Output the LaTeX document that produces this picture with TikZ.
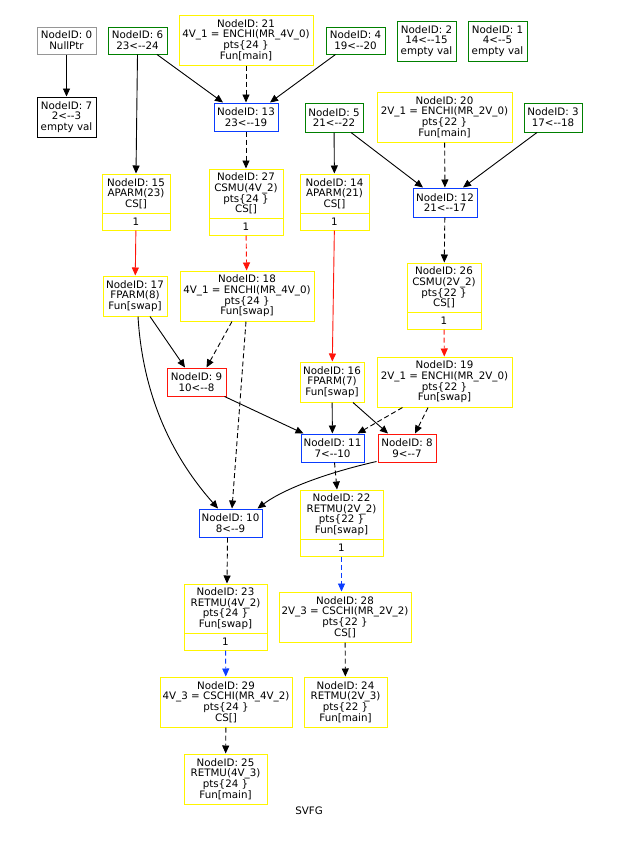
\documentclass[tikz,border=0pt]{standalone}
\usepackage{fontspec}
\setmainfont{DejaVu Sans}
\usetikzlibrary{arrows.meta}
\definecolor{gvgreen}{RGB}{0,128,0}
\definecolor{gvblue}{RGB}{10,60,255}
\definecolor{gvred}{RGB}{255,20,10}
\definecolor{gvyellow}{RGB}{255,245,0}
\definecolor{gvgray}{RGB}{150,150,150}
\newcommand{\dd}{<-\kern0pt-}
\begin{document}
\begin{tikzpicture}[x=1pt,y=-1pt,
  gvbox/.style={draw, line width=1pt, inner sep=0pt, align=center, font=\fontsize{10.3}{10.7}\selectfont},
  sz/.style 2 args={minimum width=#1pt, minimum height=#2pt},
  gb/.style={gvbox, draw=gvgreen},
  bb/.style={gvbox, draw=gvblue},
  rb/.style={gvbox, draw=gvred},
  yb/.style={gvbox, draw=gvyellow},
  kb/.style={gvbox, draw=black},
  conn/.style={line width=0.9pt, -{Triangle[length=8pt,width=7pt]}},
  dsh/.style={dash pattern=on 5pt off 3pt},
  rc/.style={draw=gvred, -{Triangle[length=8pt,width=7pt,fill=gvred]}},
  bc/.style={draw=gvblue, -{Triangle[length=8pt,width=7pt,fill=gvblue]}},
]
\path[fill=white] (0,0) rectangle (622,847);
\useasboundingbox (0,0) rectangle (622,847);

% row 1
\node[gvbox, draw=gvgray, sz={59}{27}] (n0) at (66.5,40.5) {NodeID: 0\\NullPtr};
\node[gb, sz={59}{27}] (n6) at (137.5,40.5) {NodeID: 6\\23\dd24};
\node[yb, sz={134}{50}] (n21) at (246,40) {NodeID: 21\\4V\_1 = ENCHI(MR\_4V\_0)\\pts\{24 \}\\Fun[main]};
\node[gb, sz={59}{27}] (n4) at (355.5,40.5) {NodeID: 4\\19\dd20};
\node[gb, sz={59}{40}] (n2) at (426.5,41) {NodeID: 2\\14\dd15\\empty val};
\node[gb, sz={59}{40}] (n1) at (497.5,41) {NodeID: 1\\4\dd5\\empty val};

% row 2
\node[kb, sz={59}{40}] (n7) at (66.5,117) {NodeID: 7\\2\dd3\\empty val};
\node[bb, sz={64}{28}] (n13) at (246,117) {NodeID: 13\\23\dd19};
\node[gb, sz={58}{29}] (n5) at (334,117.5) {NodeID: 5\\21\dd22};
\node[yb, sz={135}{50}] (n20) at (444.5,117) {NodeID: 20\\2V\_1 = ENCHI(MR\_2V\_0)\\pts\{22 \}\\Fun[main]};
\node[gb, sz={58}{29}] (n3) at (553,117.5) {NodeID: 3\\17\dd18};

% row 3
\node[yb, sz={68}{39}] (n15) at (136,193.5) {NodeID: 15\\APARM(23)\\CS[]};
\node[yb, sz={68}{17}] (n15b) at (136,221.5) {1};
\node[yb, sz={74}{49}] (n27) at (246,193.5) {NodeID: 27\\CSMU(4V\_2)\\pts\{24 \}\\CS[]};
\node[yb, sz={74}{17}] (n27b) at (246,226.5) {1};
\node[yb, sz={69}{39}] (n14) at (334.5,193.5) {NodeID: 14\\APARM(21)\\CS[]};
\node[yb, sz={69}{17}] (n14b) at (334.5,221.5) {1};
\node[bb, sz={64}{29}] (n12) at (445,202.5) {NodeID: 12\\21\dd17};

% row 4
\node[yb, sz={74}{49}] (n26) at (444,287.5) {NodeID: 26\\CSMU(2V\_2)\\pts\{22 \}\\CS[]};
\node[yb, sz={74}{17}] (n26b) at (444,320.5) {1};
\node[yb, sz={64}{40}] (n17) at (135,296) {NodeID: 17\\FPARM(8)\\Fun[swap]};
\node[yb, sz={134}{50}] (n18) at (247,296) {NodeID: 18\\4V\_1 = ENCHI(MR\_4V\_0)\\pts\{24 \}\\Fun[swap]};

% row 5
\node[rb, sz={59}{28}] (n9) at (196.5,382) {NodeID: 9\\10\dd8};
\node[yb, sz={64}{40}] (n16) at (332,382) {NodeID: 16\\FPARM(7)\\Fun[swap]};
\node[yb, sz={135}{50}] (n19) at (444.5,382) {NodeID: 19\\2V\_1 = ENCHI(MR\_2V\_0)\\pts\{22 \}\\Fun[swap]};

% row 6
\node[bb, sz={63}{28}] (n11) at (332.5,448) {NodeID: 11\\7\dd10};
\node[rb, sz={58}{28}] (n8) at (407,448) {NodeID: 8\\9\dd7};

% row 7
\node[bb, sz={63}{28}] (n10) at (230.5,523) {NodeID: 10\\8\dd9};
\node[yb, sz={83}{49}] (n22) at (341.5,514.5) {NodeID: 22\\RETMU(2V\_2)\\pts\{22 \}\\Fun[swap]};
\node[yb, sz={83}{17}] (n22b) at (341.5,547.5) {1};

% row 8
\node[yb, sz={83}{49}] (n23) at (225.5,608.5) {NodeID: 23\\RETMU(4V\_2)\\pts\{24 \}\\Fun[swap]};
\node[yb, sz={83}{17}] (n23b) at (225.5,641.5) {1};
\node[yb, sz={132}{50}] (n28) at (345,617) {NodeID: 28\\2V\_3 = CSCHI(MR\_2V\_2)\\pts\{22 \}\\CS[]};

% row 9
\node[yb, sz={132}{50}] (n29) at (226,702) {NodeID: 29\\4V\_3 = CSCHI(MR\_4V\_2)\\pts\{24 \}\\CS[]};
\node[yb, sz={83}{50}] (n24) at (345.5,702) {NodeID: 24\\RETMU(2V\_3)\\pts\{22 \}\\Fun[main]};

% row 10
\node[yb, sz={83}{50}] (n25) at (225.5,779) {NodeID: 25\\RETMU(4V\_3)\\pts\{24 \}\\Fun[main]};
\node[font=\fontsize{10.3}{10.7}\selectfont, inner sep=0pt] (title) at (309,811) {SVFG};

% edges
\draw[conn] (n0) -- (n7);
\draw[conn] ([xshift=19.5pt]n6.south) -- ([xshift=-23pt]n13.north);
\draw[conn,dsh] (n21) -- (n13);
\draw[conn] ([xshift=-20pt]n4.south) -- ([xshift=24pt]n13.north);
\draw[conn] (n6.south) -- (n15.north);
\draw[conn] (n5) -- (n14);
\draw[conn] ([xshift=17pt]n5.south) -- ([xshift=-22pt]n12.north);
\draw[conn,dsh] (n20) -- (n12);
\draw[conn] ([xshift=-16pt]n3.south) -- ([xshift=18pt]n12.north);
\draw[conn,dsh] (n13) -- (n27);
\draw[conn,dsh] (n12) -- (n26);
\draw[conn,rc] (n15b) -- (n17);
\draw[conn,rc,dsh] (n27b) -- (n18);
\draw[conn,rc] (n14b) -- (n16);
\draw[conn,rc,dsh] (n26b) -- (n19);
\draw[conn] ([xshift=15pt]n17.south) -- ([xshift=-11.5pt]n9.north);
\draw[conn] ([xshift=3pt]n17.south) .. controls (143,400) and (175,460) .. ([xshift=-12.5pt]n10.north);
\draw[conn,dsh] ([xshift=-15pt]n18.south) -- ([xshift=10pt]n9.north);
\draw[conn,dsh] ([xshift=-1pt]n18.south) -- ([xshift=1.5pt]n10.north);
\draw[conn] ([xshift=-2pt]n9.south east) -- ([xshift=3pt]n11.north west);
\draw[conn] (n16) -- (n11);
\draw[conn] ([xshift=21pt]n16.south) -- ([xshift=-19pt]n8.north);
\draw[conn,dsh] ([xshift=-42pt]n19.south) -- ([xshift=25pt]n11.north);
\draw[conn,dsh] ([xshift=-16.5pt]n19.south) -- ([xshift=8pt]n8.north);
\draw[conn] ([xshift=-1pt,yshift=1pt]n8.south west) .. controls (330,472) and (285,488) .. ([xshift=-5pt]n10.north east);
\draw[conn,dsh] ([xshift=2pt]n11.south) -- ([xshift=-4.5pt]n22.north);
\draw[conn,bc,dsh] (n22b.south) -- (n22b.south |- n28.north);
\draw[conn,dsh] ([xshift=-3pt]n10.south) -- ([xshift=1.5pt]n23.north);
\draw[conn,bc,dsh] (n23b) -- (n29);
\draw[conn,dsh] (n28) -- (n24);
\draw[conn,dsh] (n29) -- (n25);
\end{tikzpicture}
\end{document}
